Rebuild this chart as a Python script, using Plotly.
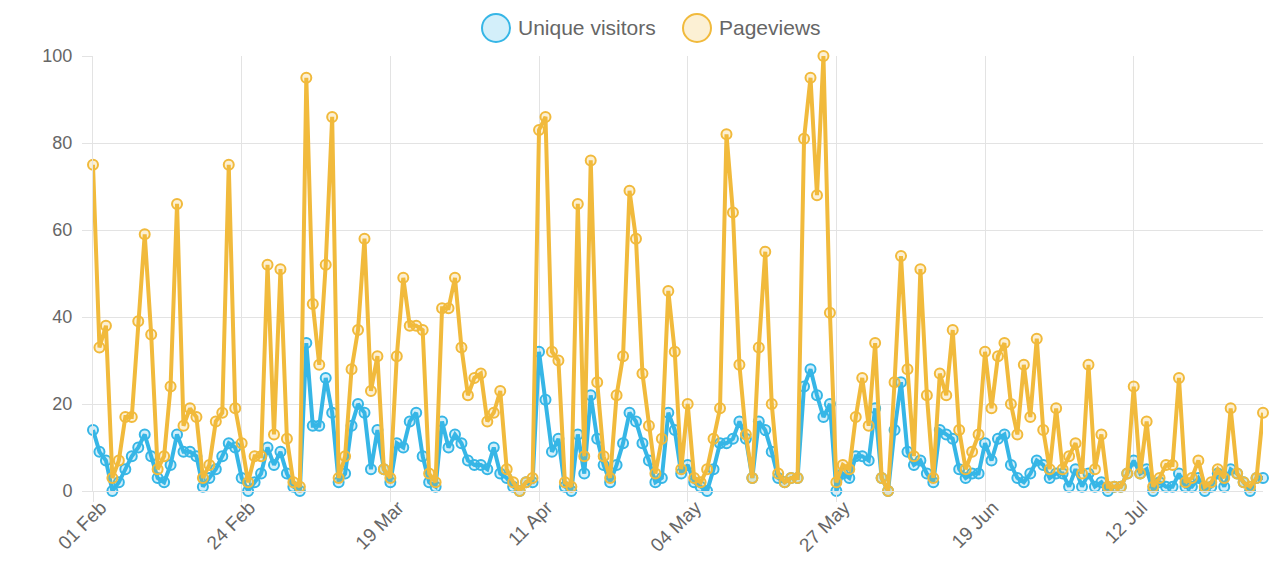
import pandas as pd
import plotly.graph_objects as go

start_date = "2017-02-01"
pageviews = [75,33,38,3,7,17,17,39,59,36, 5,8,24,66,15,19,17,3,6,16,
             18,75,19,11,2,8,8,52,13,51, 12,2,1,95,43,29,52,86,3,8,
             28,37,58,23,31,5,3,31,49,38, 38,37,4,2,42,42,49,33,22,26,
             27,16,18,23,5,2,0,2,3,83, 86,32,30,2,1,66,8,76,25,8,
             3,22,31,69,58,27,15,4,12,46, 32,5,20,3,2,5,12,19,82,64,
             29,13,3,33,55,20,4,2,3,3, 81,95,68,100,41,2,6,5,17,26,
             15,34,3,0,25,54,28,8,51,22, 3,27,22,37,14,5,9,13,32,19,
             31,34,20,13,29,17,35,14,5,19, 5,8,11,4,29,5,13,1,1,1,
             4,24,4,16,1,3,6,6,26,2, 3,7,1,2,5,3,19,4,2,1, 3,18]
unique_visitors = [14,9,7,0,2,5,8,10,13,8, 3,2,6,13,9,9,8,1,3,5,
                   8,11,10,3,0,2,4,10,6,9, 4,1,0,34,15,15,26,18,2,4,
                   15,20,18,5,14,5,2,11,10,16, 18,8,2,1,16,10,13,11,7,6,
                   6,5,10,4,3,1,0,2,2,32, 21,9,12,1,0,13,4,22,12,6,
                   2,6,11,18,16,11,7,2,3,18, 14,4,6,2,1,0,5,11,11,12,
                   16,12,3,16,14,9,3,2,3,3, 24,28,22,17,20,0,4,3,8,8,
                   7,19,3,0,14,25,9,6,7,4, 2,14,13,12,5,3,4,4,11,7,
                   12,13,6,3,2,4,7,6,3,4, 4,1,5,1,4,1,2,0,1,1,
                   4,7,4,5,0,2,1,1,4,1, 1,3,0,1,4,1,5,4,2,0, 3,3]
tick_dates = ["2017-02-01", "2017-02-24", "2017-03-19", "2017-04-11",
              "2017-05-04", "2017-05-27", "2017-06-19", "2017-07-12"]
tick_labels = ["01 Feb", "24 Feb", "19 Mar", "11 Apr", "04 May", "27 May", "19 Jun", "12 Jul"]
series_names = ["Unique visitors", "Pageviews"]

dates = pd.date_range(start_date, periods=len(pageviews), freq="D")

BLUE = "rgb(54,182,230)"
BLUE_FILL = "rgba(54,182,230,0.22)"
GOLD = "rgb(241,186,60)"
GOLD_FILL = "rgba(241,186,60,0.22)"
GRID = "#e3e3e3"
FONT = "Liberation Sans, Arial, sans-serif"

# page body has an 8px default margin: size the figure to fit the window
OFF = 8
W, H = 1285 - OFF, 582 - OFF
ML, MR, MT, MB = 93 - OFF, 22, 56 - OFF, 91
PW, PH = W - ML - MR, H - MT - MB

def px_x(px):  # window pixel -> paper coordinate
    return (px - OFF - ML) / PW

def px_y(py):
    return (H - MB - (py - OFF)) / PH

fig = go.Figure()
for name, vals, c, f in [(series_names[0], unique_visitors, BLUE, BLUE_FILL),
                         (series_names[1], pageviews, GOLD, GOLD_FILL)]:
    fig.add_trace(go.Scatter(x=dates, y=vals, mode="lines+markers", name=name,
                             line=dict(color=c, width=4),
                             marker=dict(size=10, color=f, line=dict(color=c, width=2)),
                             cliponaxis=False, showlegend=False))

# Legend drawn as circle swatches + text, like the original
legend_items = [(series_names[0], BLUE, BLUE_FILL, 496, 516),
                (series_names[1], GOLD, GOLD_FILL, 697, 717)]
shapes, annotations = [], []
for name, c, f, cx, tx in legend_items:
    shapes.append(dict(type="circle", xref="paper", yref="paper",
                       xsizemode="pixel", ysizemode="pixel",
                       xanchor=px_x(cx), yanchor=px_y(28),
                       x0=-14, x1=14, y0=-14, y1=14,
                       fillcolor=f, line=dict(color=c, width=2)))
    annotations.append(dict(text=name, xref="paper", yref="paper",
                            x=px_x(tx), y=px_y(28), xanchor="left", yanchor="middle",
                            showarrow=False, font=dict(size=21, color="#666", family=FONT)))

fig.update_layout(
    width=W, height=H,
    margin=dict(l=ML, r=MR, t=MT, b=MB),
    paper_bgcolor="white", plot_bgcolor="white",
    font=dict(family=FONT, size=18, color="#666"),
    showlegend=False,
    shapes=shapes, annotations=annotations,
    xaxis=dict(type="date", range=[dates[0], dates[-1]], automargin=False,
               tickmode="array", tickvals=tick_dates, ticktext=tick_labels,
               tickangle=-45, showgrid=True, gridcolor=GRID, gridwidth=1,
               ticks="outside", ticklen=10, tickcolor=GRID,
               ticklabelstandoff=-13, ticklabelshift=8,
               showline=True, linecolor=GRID, zeroline=False,
               tickfont=dict(size=19, color="#666")),
    yaxis=dict(range=[0, 100], tickvals=[0, 20, 40, 60, 80, 100], automargin=False,
               showgrid=True, gridcolor=GRID, gridwidth=1,
               ticks="outside", ticklen=10, tickcolor=GRID, ticklabelstandoff=6,
               showline=True, linecolor=GRID, zeroline=False,
               tickfont=dict(size=18, color="#666")),
)

fig.write_html("out.html")
